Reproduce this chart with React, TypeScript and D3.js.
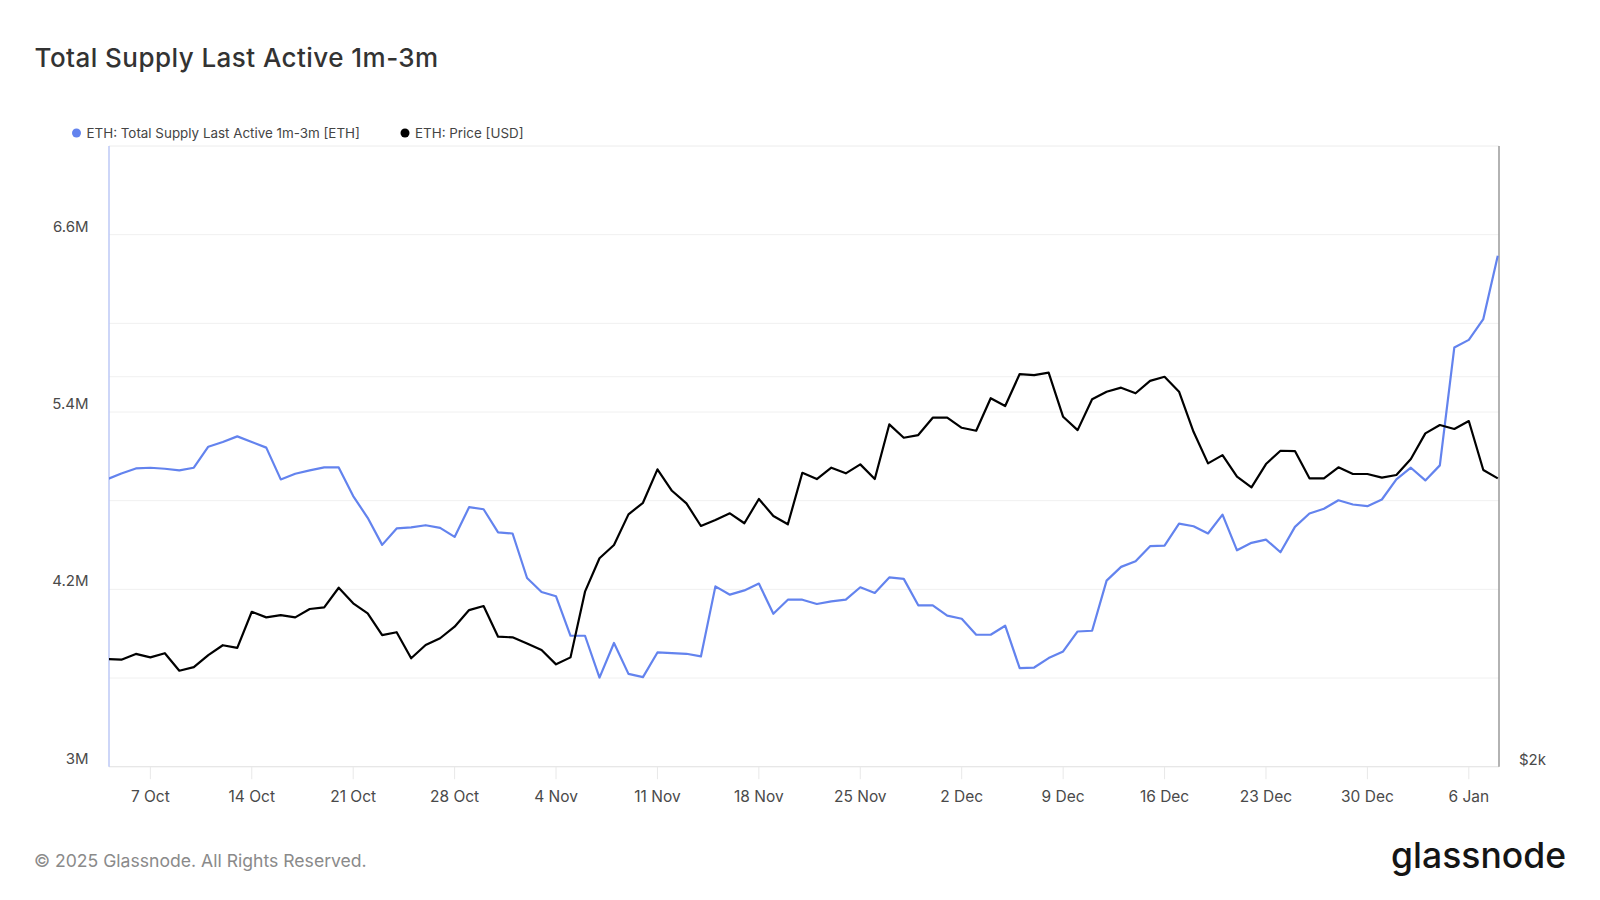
import React from "react";
import * as d3 from "d3";

// daily values, 4 Oct 2024 .. 8 Jan 2025
const firstDay = "2024-10-04";

// ETH: Total Supply Last Active 1m-3m, millions of ETH
const supply = [
  4.944, 4.984, 5.018, 5.023, 5.016, 5.005, 5.023, 5.165, 5.197, 5.235,
  5.197, 5.159, 4.944, 4.982, 5.005, 5.025, 5.025, 4.831, 4.684, 4.501,
  4.612, 4.62, 4.634, 4.616, 4.555, 4.756, 4.742, 4.586, 4.578, 4.277,
  4.182, 4.153, 3.886, 3.886, 3.603, 3.837, 3.628, 3.606, 3.773, 3.769,
  3.764, 3.746, 4.22, 4.164, 4.193, 4.239, 4.035, 4.13, 4.13, 4.101,
  4.119, 4.13, 4.214, 4.176, 4.281, 4.271, 4.092, 4.092, 4.022, 4.001,
  3.893, 3.893, 3.954, 3.667, 3.671, 3.735, 3.78, 3.915, 3.92, 4.259,
  4.352, 4.39, 4.492, 4.496, 4.645, 4.627, 4.578, 4.706, 4.464, 4.515,
  4.537, 4.451, 4.623, 4.713, 4.745, 4.803, 4.774, 4.763, 4.808, 4.944,
  5.023, 4.937, 5.039, 5.837, 5.888, 6.029, 6.458,
];

// ETH: Price [USD]
const price = [
  2422, 2419, 2444, 2429, 2447, 2372, 2387, 2439, 2482, 2470,
  2634, 2608, 2618, 2608, 2647, 2655, 2749, 2674, 2627, 2527,
  2540, 2425, 2483, 2513, 2565, 2642, 2661, 2520, 2517, 2490,
  2461, 2399, 2429, 2730, 2897, 2966, 3132, 3197, 3393, 3266,
  3194, 3068, 3101, 3138, 3083, 3219, 3123, 3077, 3372, 3335,
  3403, 3369, 3423, 3335, 3675, 3589, 3606, 3719, 3719, 3653,
  3634, 3850, 3797, 4019, 4012, 4029, 3725, 3638, 3843, 3895,
  3923, 3884, 3971, 4000, 3895, 3627, 3429, 3480, 3349, 3286,
  3425, 3507, 3505, 3339, 3339, 3405, 3365, 3365, 3343, 3359,
  3456, 3617, 3671, 3645, 3697, 3389, 3339,
];

const xTickDates = [
  "2024-10-07", "2024-10-14", "2024-10-21", "2024-10-28", "2024-11-04",
  "2024-11-11", "2024-11-18", "2024-11-25", "2024-12-02", "2024-12-09",
  "2024-12-16", "2024-12-23", "2024-12-30", "2025-01-06",
];
const supplyGrid = [3, 3.6, 4.2, 4.8, 5.4, 6.0, 6.6];
const supplyLabels = [3, 4.2, 5.4, 6.6];
const priceGrid = [4000];
const priceLabels = [2000];

const BLUE = "#6383ee";
const FONT = "Inter, 'Noto Sans', sans-serif";

export default function App() {
  const left = 109;
  const right = 1499;
  const top = 146;
  const bottom = 766.7;

  const parse = d3.utcParse("%Y-%m-%d");
  const day0 = parse(firstDay) as Date;
  const dates = supply.map((_, i) => d3.utcDay.offset(day0, i));

  const x = d3
    .scaleUtc()
    .domain([
      d3.utcMinute.offset(day0, 210),
      d3.utcHour.offset(d3.utcDay.offset(day0, 96), 2),
    ])
    .range([left, right]);
  const ySupply = d3.scaleLinear().domain([3, 7.2]).range([bottom, top]);
  const yPrice = d3.scaleLog().domain([2000, 6028]).range([bottom, top]);

  const supplyLine = d3
    .line<number>()
    .x((_, i) => x(dates[i]))
    .y((d) => ySupply(d));
  const priceLine = d3
    .line<number>()
    .x((_, i) => x(dates[i]))
    .y((d) => yPrice(d));

  const fmtDay = d3.utcFormat("%-d %b");
  const fmtM = (v: number) => `${d3.format("~g")(v)}M`;
  const fmtUsd = (v: number) => `$${v / 1000}k`;

  return (
    <div style={{ position: "absolute", left: 0, top: 0 }}>
      <svg width={1600} height={900} style={{ display: "block", fontFamily: FONT }}>
        <rect width={1600} height={900} fill="#fff" />
        <defs>
          <clipPath id="plot">
            <rect x={left} y={top} width={right - left} height={bottom - top} />
          </clipPath>
        </defs>

        <text x={34.5} y={66.5} fontSize={26} fontWeight={500} fill="#333" letterSpacing={0.45}>
          Total Supply Last Active 1m-3m
        </text>

        {/* legend */}
        <circle cx={76.5} cy={133} r={4.5} fill={BLUE} />
        <text x={86.5} y={137.5} fontSize={13.4} fill="#444">
          ETH: Total Supply Last Active 1m-3m [ETH]
        </text>
        <circle cx={405} cy={133} r={4.5} fill="#000" />
        <text x={415} y={137.5} fontSize={13.4} fill="#444">
          ETH: Price [USD]
        </text>

        {/* grid */}
        <line x1={left} x2={right} y1={top} y2={top} stroke="#ececec" />
        {supplyGrid.map((v) => (
          <line key={v} x1={left} x2={right} y1={ySupply(v)} y2={ySupply(v)} stroke="#f0f0f0" />
        ))}
        {priceGrid.map((v) => (
          <line key={v} x1={left} x2={right} y1={yPrice(v)} y2={yPrice(v)} stroke="#f0f0f0" />
        ))}

        {/* x axis */}
        <line x1={left} x2={right} y1={bottom} y2={bottom} stroke="#e4e4e4" />
        {xTickDates.map((s) => {
          const d = parse(s) as Date;
          const tx = x(d);
          return (
            <g key={s}>
              <line x1={tx} x2={tx} y1={bottom} y2={bottom + 12.5} stroke="#e8e8e8" />
              <text x={tx} y={802} fontSize={15.5} textAnchor="middle" fill="#4a4a4a">
                {fmtDay(d)}
              </text>
            </g>
          );
        })}

        {/* y axes */}
        {supplyLabels.map((v) => (
          <text key={v} x={88.5} y={ySupply(v) - 3} fontSize={15} textAnchor="end" fill="#4a4a4a">
            {fmtM(v)}
          </text>
        ))}
        {priceLabels.map((v) => (
          <text key={v} x={1519} y={yPrice(v) - 2} fontSize={15} fill="#4a4a4a">
            {fmtUsd(v)}
          </text>
        ))}
        <line x1={left} x2={left} y1={top} y2={bottom} stroke="#bcc8f6" strokeWidth={1.5} />
        <line x1={right} x2={right} y1={top} y2={bottom} stroke="#9a9a9a" strokeWidth={1.5} />

        {/* series */}
        <g clipPath="url(#plot)" fill="none" strokeWidth={2.2} strokeLinejoin="round">
          <path d={supplyLine(supply) ?? ""} stroke={BLUE} />
          <path d={priceLine(price) ?? ""} stroke="#000" />
        </g>

        {/* footer */}
        <text x={34} y={866.5} fontSize={17.6} fill="#8a8a8a">
          © 2025 Glassnode. All Rights Reserved.
        </text>
        <text
          x={1566}
          y={868}
          fontSize={35.5}
          fontWeight={500}
          textAnchor="end"
          fill="#151515"
          letterSpacing={0}
        >
          glassnode
        </text>
      </svg>
    </div>
  );
}
